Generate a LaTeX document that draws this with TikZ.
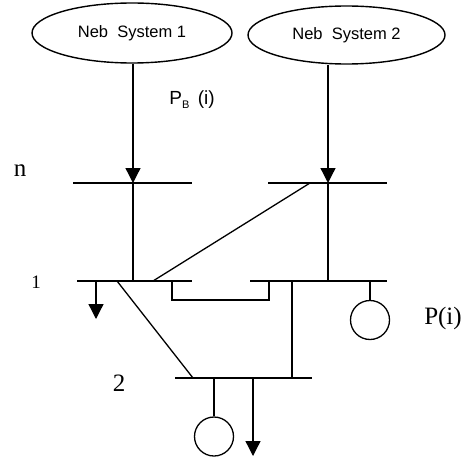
\documentclass[tikz,border=0pt]{standalone}
\usepackage{fontspec}
\setmainfont{Liberation Serif}
\newfontfamily\labelsans{Liberation Sans}
\usetikzlibrary{shapes.geometric,arrows.meta}
\begin{document}
\begin{tikzpicture}[x=1pt,y=-1pt,line width=1.3pt,
  sys/.style={ellipse,draw,line width=1.4pt,inner sep=0pt,font=\labelsans\fontsize{16.5}{16.5}\selectfont},
  bus/.style={line width=1.7pt},
  tri/.style={-{Triangle[width=15pt,length=15pt]}},
  gen/.style={circle,draw,minimum size=39pt,inner sep=0pt},
  lbl/.style={font=\fontsize{25}{25}\selectfont,inner sep=0pt}]
\useasboundingbox (0,0) rectangle (462,457);
% systems
\node[sys,minimum width=200pt,minimum height=60pt] (sys1) at (132,33) {Neb\ \ System 1};
\node[sys,minimum width=197pt,minimum height=58pt] (sys2) at (346.5,35) {Neb\ \ System 2};
% bus ends
\coordinate (nAl) at (73,183);  \coordinate (nAr) at (192,183);
\coordinate (nBl) at (268,183); \coordinate (nBr) at (387,183);
\coordinate (oAl) at (77,281);  \coordinate (oAr) at (192,281);
\coordinate (oBl) at (250,281); \coordinate (oBr) at (387,281);
\coordinate (tl) at (175,378);  \coordinate (tr) at (312,378);
\draw[bus] (nAl) -- (nAr);
\draw[bus] (nBl) -- (nBr);
\draw[bus] (oAl) -- (oAr);
\draw[bus] (oBl) -- (oBr);
\draw[bus] (tl) -- (tr);
% taps
\coordinate (nAt) at (133,183); \coordinate (oAt) at (133,281);
\coordinate (nBt) at (328,183); \coordinate (oBt) at (328,281);
\draw[tri] (sys1.south -| nAt) -- (nAt);
\draw (nAt) -- (oAt);
\draw[tri] (sys2.south -| nBt) -- (nBt);
\draw (nBt) -- (oBt);
% diagonal n2 -> 1
\coordinate (dA) at (310,183); \coordinate (dB) at (153,281);
\draw (dA) -- (dB);
% load at bus 1
\coordinate (l1a) at (96,281); \coordinate (l1b) at (96,319);
\draw[tri] (l1a) -- (l1b);
% diagonal 1 -> 2
\coordinate (eA) at (117,281); \coordinate (eB) at (193,378);
\draw (eA) -- (eB);
% link bus1 - bus3
\coordinate (fA) at (172,281); \coordinate (fB) at (269,281);
\draw (fA) -- (fA |- 0,300) -- (fB |- 0,300) -- (fB);
% bus3 -> bus2
\coordinate (gA) at (292,281); \coordinate (gB) at (292,378);
\draw (gA) -- (gB);
% generator at bus 3
\coordinate (h3) at (370,281);
\node[gen] (g3) at (370,320) {};
\draw (h3) -- (g3.north);
% generator at bus 2
\coordinate (h2) at (214,378);
\node[gen] (g2) at (214,436.5) {};
\draw (h2) -- (g2.north);
% load at bus 2
\coordinate (l2a) at (253,378); \coordinate (l2b) at (253,456);
\draw[tri] (l2a) -- (l2b);
% labels
\node[font=\labelsans\fontsize{19}{19}\selectfont,inner sep=0pt] (pb) at (192,100) {P\raisebox{-0.35ex}{\fontsize{11}{11}\selectfont B}\ \,(i)};
\node[lbl] (ln) at (20,171) {n};
\node[font=\fontsize{19}{19}\selectfont,inner sep=0pt] (l1) at (36,282) {1};
\node[lbl] (l2) at (119,383) {2};
\node[lbl] (lp) at (443,318) {P(i)};
\end{tikzpicture}
\end{document}
